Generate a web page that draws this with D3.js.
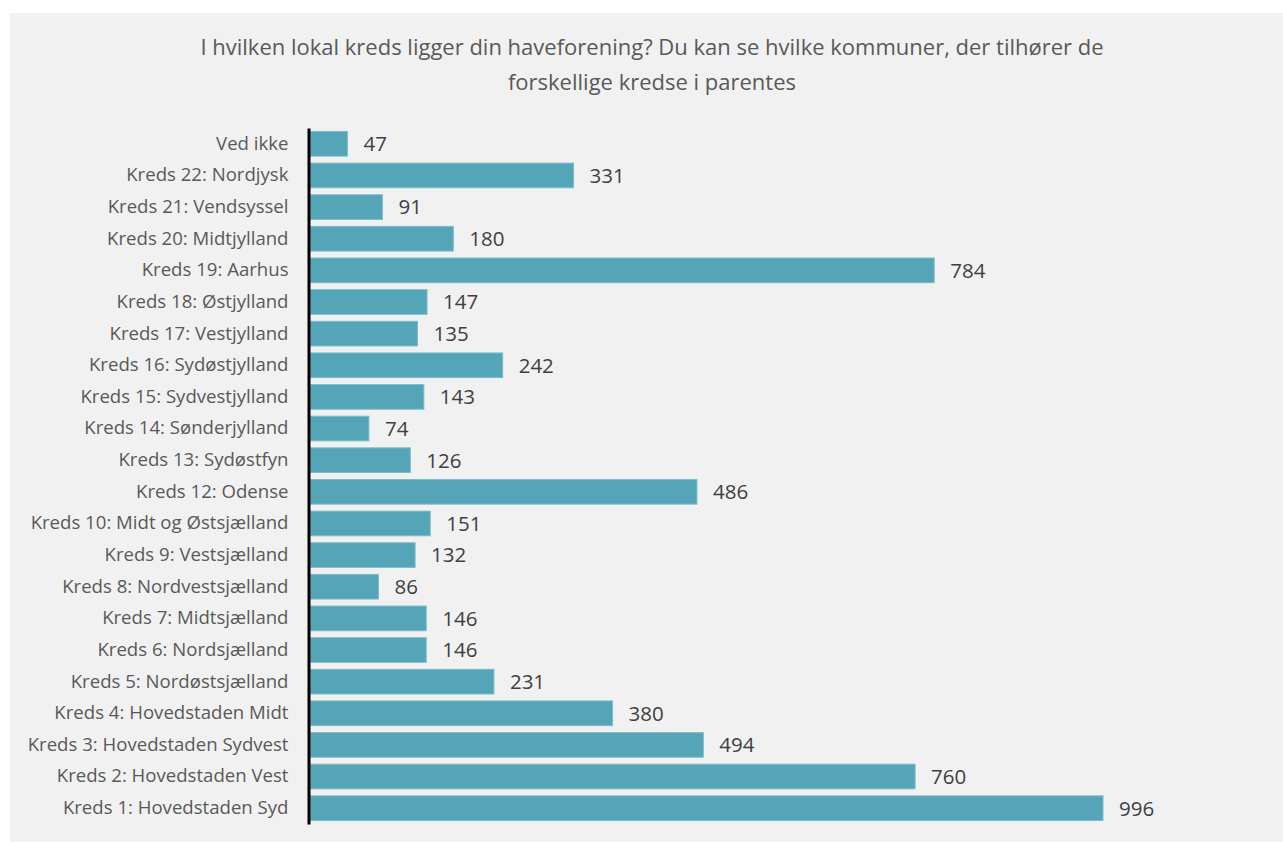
<!DOCTYPE html>
<html>
<head>
<meta charset="utf-8">
<script src="https://cdn.jsdelivr.net/npm/d3@7"></script>
<style>
  body { margin: 0; background: #fff; }
  text { font-family: "Open Sans", "Noto Sans", sans-serif; }
</style>
</head>
<body>
<svg id="chart"></svg>
<script>
// Categories, top to bottom
const categories = [
    "Ved ikke",
    "Kreds 22: Nordjysk",
    "Kreds 21: Vendsyssel",
    "Kreds 20: Midtjylland",
    "Kreds 19: Aarhus",
    "Kreds 18: Østjylland",
    "Kreds 17: Vestjylland",
    "Kreds 16: Sydøstjylland",
    "Kreds 15: Sydvestjylland",
    "Kreds 14: Sønderjylland",
    "Kreds 13: Sydøstfyn",
    "Kreds 12: Odense",
    "Kreds 10: Midt og Østsjælland",
    "Kreds 9: Vestsjælland",
    "Kreds 8: Nordvestsjælland",
    "Kreds 7: Midtsjælland",
    "Kreds 6: Nordsjælland",
    "Kreds 5: Nordøstsjælland",
    "Kreds 4: Hovedstaden Midt",
    "Kreds 3: Hovedstaden Sydvest",
    "Kreds 2: Hovedstaden Vest",
    "Kreds 1: Hovedstaden Syd"
];
const values = [47, 331, 91, 180, 784, 147, 135, 242, 143, 74, 126, 486, 151, 132, 86, 146, 146, 231, 380, 494, 760, 996];
const titleLines = [
    "I hvilken lokal kreds ligger din haveforening? Du kan se hvilke kommuner, der tilhører de",
    "forskellige kredse i parentes"
];

const width = 1283;
const height = 843;

const svg = d3.select("#chart")
    .attr("width", width)
    .attr("height", height);

// gray panel
svg.append("rect")
    .attr("x", 10)
    .attr("y", 13)
    .attr("width", width - 10)
    .attr("height", 829)
    .attr("fill", "#f1f1f1");

svg.append("text")
    .attr("text-anchor", "middle")
    .attr("fill", "#595959")
    .attr("font-size", "22px")
    .selectAll("tspan")
    .data(titleLines)
    .join("tspan")
    .attr("x", 652)
    .attr("y", (d, i) => 55 + i * 35)
    .text(d => d);

const x0 = 310;
const x = d3.scaleLinear()
    .domain([0, 996])
    .range([x0, 1103]);

const y = d3.scaleBand()
    .domain(categories)
    .range([128, 824])
    .paddingInner(0.22)
    .paddingOuter(0.11);

svg.selectAll(".bar")
    .data(values)
    .join("rect")
    .attr("class", "bar")
    .attr("x", x(0))
    .attr("y", (d, i) => y(categories[i]))
    .attr("width", d => x(d) - x(0))
    .attr("height", y.bandwidth())
    .attr("fill", "#55a5b8")
    .attr("stroke", "#7dbccb")
    .attr("stroke-width", 1);

svg.selectAll(".value")
    .data(values)
    .join("text")
    .attr("class", "value")
    .attr("x", d => x(d) + 16)
    .attr("y", (d, i) => y(categories[i]) + y.bandwidth() / 2)
    .attr("dy", "0.36em")
    .attr("fill", "#404040")
    .attr("font-size", "20.5px")
    .text(d => d);

// category axis
const yAxis = svg.append("g")
    .attr("transform", `translate(${x0 - 1.5},0)`)
    .call(d3.axisLeft(y).tickSize(0).tickPadding(20));

yAxis.select(".domain")
    .attr("stroke", "#000")
    .attr("stroke-width", 3);

yAxis.selectAll("text")
    .attr("fill", "#595959")
    .attr("font-size", "18.6px")
    .style("font-family", "'Open Sans', 'Noto Sans', sans-serif");
</script>
</body>
</html>
